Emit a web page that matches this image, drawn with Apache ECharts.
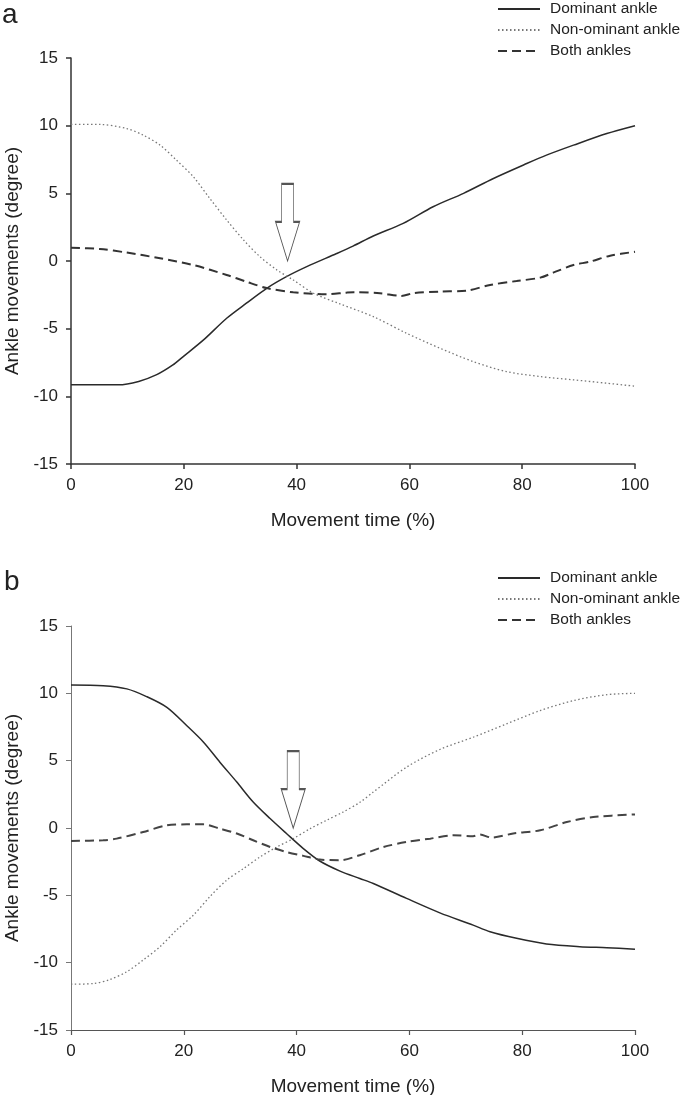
<!DOCTYPE html>
<html>
<head>
<meta charset="utf-8">
<script src="https://cdn.jsdelivr.net/npm/echarts@6/dist/echarts.min.js"></script>
<style>
html,body{margin:0;padding:0;background:#fff;}
#chart{width:685px;height:1095px;}
</style>
</head>
<body>
<div id="chart"></div>
<script>
// ---- Data ----
const seriesNames = ['Dominant ankle', 'Non-ominant ankle', 'Both ankles'];
const xTicks = [0, 20, 40, 60, 80, 100];
const yTicks = [-15, -10, -5, 0, 5, 10, 15];

// Panel a
const aDominant = [[0,-9.15],[4,-9.15],[8.4,-9.15],[12,-8.9],[15.2,-8.4],[18,-7.7],[19.9,-7.06],[23.5,-5.83],[27.6,-4.23],[31.1,-3.12],[34.7,-2.02],[38.2,-1.16],[41.8,-0.42],[47.1,0.55],[50,1.1],[53.6,1.85],[58.9,2.78],[64.2,4.01],[69.6,5.0],[74.9,6.1],[80.8,7.2],[84.3,7.82],[89.1,8.56],[95,9.42],[100,10.0]];
const aNonDominant = [[0,10.1],[5.1,10.09],[9.9,9.79],[12.8,9.3],[15.8,8.56],[18.7,7.45],[21.7,6.22],[24.6,4.63],[27.6,3.03],[30.6,1.55],[33.5,0.32],[36.5,-0.66],[39.4,-1.4],[43,-2.38],[47.7,-3.17],[53.6,-4.11],[59.5,-5.34],[65.4,-6.44],[71.3,-7.43],[77.2,-8.17],[83.2,-8.54],[89.1,-8.78],[95,-9.03],[100,-9.25]];
const aBoth = [[0,0.98],[5.1,0.89],[9.9,0.62],[15.8,0.2],[21.7,-0.3],[27.6,-1.03],[31.1,-1.53],[34.7,-2.0],[39.4,-2.31],[45.2,-2.46],[48.8,-2.34],[50.1,-2.31],[54.8,-2.38],[58.6,-2.58],[60.7,-2.38],[65.4,-2.26],[70.2,-2.19],[74.3,-1.77],[79,-1.48],[83.2,-1.23],[85.5,-0.86],[89.1,-0.3],[92,-0.05],[95.6,0.39],[100,0.68]];
const aArrow = { x: 38.4, top: 5.7, tip: 0 };

// Panel b
const bDominant = [[0,10.62],[5.7,10.57],[9.9,10.33],[13.4,9.76],[17,8.96],[20.5,7.61],[23.5,6.37],[26.4,4.89],[29.4,3.41],[32.3,1.93],[35.3,0.7],[38.2,-0.41],[41.2,-1.53],[44.1,-2.45],[47.7,-3.2],[51.2,-3.75],[53.6,-4.12],[59.5,-5.23],[65.4,-6.3],[71.3,-7.21],[74.3,-7.7],[79,-8.19],[84.3,-8.61],[90.2,-8.81],[95,-8.89],[100,-9.0]];
const bNonDominant = [[0,-11.6],[4,-11.55],[6.9,-11.25],[9.9,-10.67],[12.8,-9.8],[15.8,-8.81],[18.7,-7.58],[21.7,-6.47],[24.6,-5.11],[27.6,-3.87],[30.6,-3.01],[33.5,-2.15],[36.5,-1.41],[39.4,-0.79],[42.4,-0.05],[45.3,0.57],[48.3,1.2],[51.2,1.9],[53.6,2.67],[59.5,4.52],[65.4,5.83],[71.3,6.74],[77.2,7.73],[83.2,8.72],[89.1,9.46],[95,9.9],[100,10.0]];
const bBoth = [[0,-0.96],[5.7,-0.91],[8.1,-0.79],[12.8,-0.3],[17,0.2],[20.5,0.27],[23.5,0.27],[26.4,-0.05],[29.4,-0.41],[32.3,-0.91],[35.3,-1.41],[38.2,-1.78],[41.2,-2.07],[44.1,-2.34],[47.7,-2.39],[51.2,-2.02],[55.4,-1.41],[59.5,-1.04],[63.7,-0.79],[67.8,-0.54],[71.3,-0.61],[72.5,-0.49],[74.6,-0.71],[78.4,-0.41],[83.2,-0.17],[87.9,0.44],[92.6,0.81],[100,1.01]];
const bArrow = { x: 39.4, top: 5.7, tip: 0 };

// ---- Chart ----
const FONT = 'Liberation Sans, Arial, sans-serif';
const arrowPath = 'path://M6 0 L18 0 L18 38 L24 38 L12 77 L0 38 L6 38 Z';

function xAxis(gi, axisColor, lw) {
  return {
    type: 'value', gridIndex: gi, min: 0, max: 100, interval: 20,
    name: 'Movement time (%)', nameLocation: 'middle', nameGap: 47,
    nameTextStyle: { fontFamily: FONT, fontSize: 19, color: '#222' },
    axisLine: { show: true, onZero: false, lineStyle: { color: axisColor, width: lw } },
    axisTick: { show: true, inside: false, length: 5, lineStyle: { color: axisColor, width: lw } },
    axisLabel: { fontFamily: FONT, fontSize: 17, color: '#222', margin: 13,
      formatter: v => xTicks.includes(v) ? String(v) : '' },
    splitLine: { show: false }
  };
}
function yAxis(gi, axisColor, lw) {
  return {
    type: 'value', gridIndex: gi, min: -15, max: 15, interval: 5,
    name: 'Ankle movements (degree)', nameLocation: 'middle', nameGap: 48, nameRotate: 90,
    nameTextStyle: { fontFamily: FONT, fontSize: 19, color: '#222' },
    axisLine: { show: true, onZero: false, lineStyle: { color: axisColor, width: lw } },
    axisTick: { show: true, inside: false, length: 5, lineStyle: { color: axisColor, width: lw } },
    axisLabel: { fontFamily: FONT, fontSize: 17, color: '#222', margin: 13,
      formatter: v => yTicks.includes(v) ? String(v) : '' },
    splitLine: { show: false }
  };
}
function mkSeries(gi, dom, non, both, arrow, bothColor) {
  return [
    { name: seriesNames[0], type: 'line', xAxisIndex: gi, yAxisIndex: gi, data: dom,
      symbol: 'none', smooth: 0.3, lineStyle: { color: '#2a2a2a', width: 1.5, type: 'solid' }, itemStyle: { color: '#2a2a2a' },
      markPoint: { silent: true, symbol: arrowPath, symbolKeepAspect: false, symbolSize: [24, 77],
        itemStyle: { color: '#fff', borderColor: '#555', borderWidth: 1.2 }, label: { show: false },
        data: [{ coord: [arrow.x, (arrow.top + arrow.tip) / 2] }] } },
    { name: seriesNames[1], type: 'line', xAxisIndex: gi, yAxisIndex: gi, data: non,
      symbol: 'none', smooth: 0.3, lineStyle: { color: '#777', width: 1.3, type: [1.5, 2.5] }, itemStyle: { color: '#777' } },
    { name: seriesNames[2], type: 'line', xAxisIndex: gi, yAxisIndex: gi, data: both,
      symbol: 'none', smooth: 0.3, lineStyle: { color: bothColor, width: 2, type: [9, 5] }, itemStyle: { color: bothColor } }
  ];
}
function legend(top) {
  return {
    data: seriesNames, orient: 'vertical', left: 497, top: top, padding: 0,
    itemWidth: 42, itemHeight: 12, itemGap: 5,
    itemStyle: { opacity: 0 },
    textStyle: { fontFamily: FONT, fontSize: 15.5, color: '#222', padding: [0, 0, 0, 5] },
    selectedMode: false
  };
}

const chart = echarts.init(document.getElementById('chart'), null, { renderer: 'canvas' });
chart.setOption({
  animation: false,
  backgroundColor: '#fff',
  grid: [
    { left: 71, right: 50, top: 58, height: 406, outerBoundsMode: 'none', containLabel: false },
    { left: 71, right: 50, top: 626, height: 404, outerBoundsMode: 'none', containLabel: false }
  ],
  xAxis: [xAxis(0, '#333', 1.5), xAxis(1, '#555', 1.2)],
  yAxis: [yAxis(0, '#333', 1.5), yAxis(1, '#777', 1)],
  legend: [legend(1), legend(570)],
  graphic: [
    { type: 'text', left: 2, top: 1, style: { text: 'a', font: '28px ' + FONT, fill: '#222' } },
    { type: 'text', left: 4, top: 568, style: { text: 'b', font: '28px ' + FONT, fill: '#222' } }
  ],
  series: [].concat(
    mkSeries(0, aDominant, aNonDominant, aBoth, aArrow, '#333'),
    mkSeries(1, bDominant, bNonDominant, bBoth, bArrow, '#444')
  )
});
</script>
</body>
</html>
